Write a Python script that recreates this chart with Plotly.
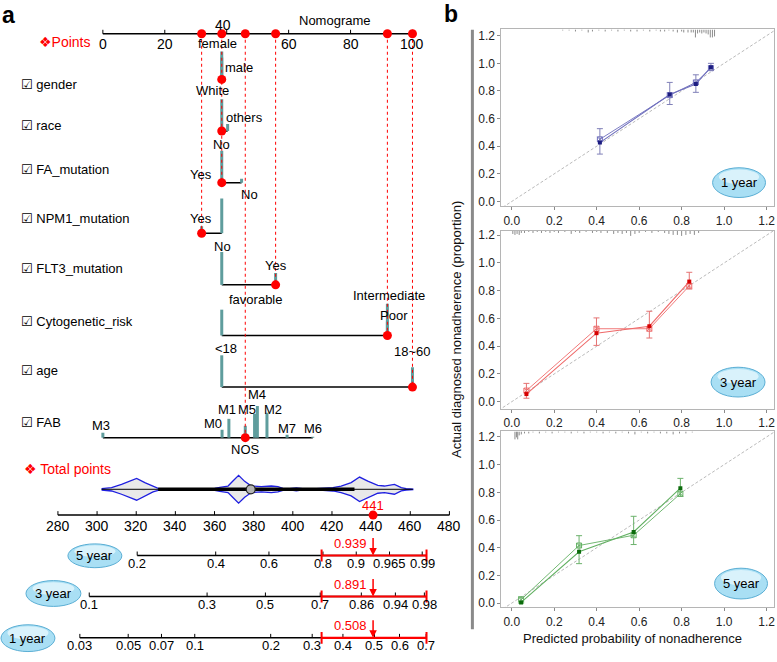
import plotly.graph_objects as go

FONT = "Liberation Sans, Arial, DejaVu Sans, sans-serif"
W, H = 777, 662

# ======================= DATA =======================
# --- Panel a: nomogram ---
points_ticks = [0, 20, 40, 60, 80, 100]
total_ticks = [280, 300, 320, 340, 360, 380, 400, 420, 440, 460, 480]

row_names = ["gender", "race", "FA_mutation", "NPM1_mutation", "FLT3_mutation",
             "Cytogenetic_risk", "age", "FAB"]

gender_levels = ["female", "male"]
gender_points = [38.4, 38.4]
gender_freq = [0.44, 0.56]

race_levels = ["White", "others"]
race_points = [38.4, 40.3]
race_freq = [0.64, 0.14]

fa_levels = ["No", "Yes", "No"]
fa_points = [38.4, 38.4, 44.8]
fa_freq = [0.64, 0.0, 0.08]

npm1_levels = ["Yes", "No"]
npm1_points = [31.9, 38.4]
npm1_freq = [0.14, 0.70]

flt3_levels = ["No", "Yes"]
flt3_points = [38.4, 55.8]
flt3_freq = [0.66, 0.24]

cyto_levels = ["favorable", "Intermediate", "Poor"]
cyto_points = [38.4, 91.9, 91.9]
cyto_freq = [0.52, 0.64, 0.28]

age_levels = ["<18", "18~60"]
age_points = [38.4, 100.0]
age_freq = [0.64, 0.40]

fab_levels = ["M3", "M0", "M1", "NOS", "M5", "M4", "M2", "M7", "M6"]
fab_points = [0.0, 38.5, 40.7, 46.0, 49.0, 49.9, 53.0, 59.5, 67.8]
fab_freq = [0.10, 0.16, 0.38, 0.24, 0.48, 0.64, 0.50, 0.06, 0.02]

observed_level = [1, 0, 0, 0, 1, 2, 1, 3]   # index of the patient's level in each row
total_points = 441

# distribution of total points (violin)
violin_total = [302.3, 307.4, 312.5, 320.2, 324.4, 328.6, 331.2, 345.0, 360.1, 362.7,
                366.9, 369.4, 372.3, 375.4, 378.8, 383.9, 389.0, 392.4, 394.9, 398.4,
                401.8, 405.0, 412.0, 420.5, 424.7, 429.8, 434.1, 438.3, 443.4, 446.8,
                451.9, 455.4, 457.9, 461.3]
violin_density = [0.7, 1.7, 5.0, 11.0, 6.7, 2.7, 1.0, 0.6, 1.0, 2.0,
                  3.3, 8.3, 14.0, 8.0, 3.3, 2.7, 3.3, 2.7, 1.0, 0.6,
                  1.5, 0.6, 0.6, 1.7, 3.3, 6.7, 12.3, 8.3, 4.0, 3.3,
                  5.0, 1.7, 0.7, 0.3]
box_q1, box_median, box_q3 = 331.2, 378.5, 431.5

# probability scales (tick value -> total points position)
prob5_ticks = [0.2, 0.4, 0.6, 0.8, 0.9, 0.965, 0.99]
prob5_total = [320.5, 360.6, 387.8, 415.4, 432.4, 449.4, 466.1]
prob3_ticks = [0.1, 0.3, 0.5, 0.7, 0.86, 0.94, 0.98]
prob3_total = [296.0, 356.2, 386.0, 414.0, 435.0, 452.4, 467.2]
prob1_ticks = [0.03, 0.05, 0.07, 0.1, 0.2, 0.3, 0.4, 0.5, 0.6, 0.7]
prob1_total = [291.2, 315.9, 332.9, 349.9, 388.7, 409.9, 425.6, 441.7, 454.5, 468.1]
pred_values = [0.939, 0.891, 0.508]          # 5, 3, 1 year
pred_names = ["5 year", "3 year", "1 year"]
ci_total = [414.7, 468.3]

# --- Panel b: calibration ---
cal1_pred = [0.415, 0.744, 0.867, 0.938]
cal1_obs = [0.426, 0.774, 0.850, 0.972]
cal1_lo = [0.343, 0.702, 0.790, 0.948]
cal1_hi = [0.527, 0.862, 0.917, 1.000]
cal1_corr = [0.450, 0.770, 0.862, 0.965]

cal3_pred = [0.069, 0.399, 0.648, 0.836]
cal3_obs = [0.055, 0.494, 0.544, 0.866]
cal3_lo = [0.025, 0.406, 0.459, 0.812]
cal3_hi = [0.132, 0.604, 0.652, 0.933]
cal3_corr = [0.080, 0.526, 0.526, 0.835]

cal5_pred = [0.044, 0.317, 0.574, 0.794]
cal5_obs = [0.005, 0.371, 0.514, 0.830]
cal5_lo = [0.000, 0.285, 0.423, 0.770]
cal5_hi = [0.046, 0.487, 0.627, 0.901]
cal5_corr = [0.025, 0.416, 0.490, 0.790]

rug1_x = [0.24, 0.27, 0.30, 0.33, 0.36, 0.38, 0.41, 0.44, 0.47, 0.50, 0.53, 0.56, 0.59,
          0.62, 0.65, 0.68, 0.70, 0.72, 0.74, 0.76, 0.78, 0.80, 0.81, 0.83, 0.845, 0.855,
          0.865, 0.875, 0.885, 0.895, 0.905, 0.915, 0.925, 0.935, 0.945, 0.955]
rug1_n = [1, 1, 2, 1, 3, 2, 1, 2, 1, 2, 1, 2, 2, 1, 2, 1, 2, 2, 1, 2, 3, 2, 3, 3, 3, 3,
          8, 4, 3, 4, 3, 4, 5, 8, 8, 7]
rug3_x = [0.005, 0.015, 0.025, 0.035, 0.045, 0.06, 0.08, 0.10, 0.12, 0.14, 0.16, 0.18,
          0.20, 0.22, 0.25, 0.28, 0.30, 0.32, 0.35, 0.38, 0.40, 0.42, 0.45, 0.48, 0.50,
          0.52, 0.54, 0.56, 0.58, 0.60, 0.63, 0.66, 0.69, 0.72, 0.74, 0.76, 0.78, 0.80,
          0.82, 0.84, 0.86, 0.88]
rug3_n = [3, 4, 3, 4, 2, 2, 1, 2, 1, 2, 1, 2, 1, 2, 1, 3, 1, 2, 1, 2, 1, 2, 2, 3, 2, 3,
          2, 5, 3, 2, 1, 2, 1, 2, 3, 4, 4, 5, 4, 3, 4, 2]
rug5_x = [0.015, 0.022, 0.028, 0.035, 0.045, 0.06, 0.08, 0.10, 0.13, 0.16, 0.19, 0.22,
          0.25, 0.28, 0.31, 0.34, 0.37, 0.40, 0.43, 0.46, 0.49, 0.52, 0.55, 0.58, 0.61,
          0.64, 0.67, 0.70, 0.73, 0.76, 0.79, 0.82, 0.85]
rug5_n = [8, 6, 8, 4, 3, 2, 2, 1, 2, 1, 2, 1, 1, 2, 1, 2, 1, 1, 2, 1, 2, 1, 2, 3, 1, 2,
          1, 2, 2, 3, 2, 2, 1]
cal_ticks = [0.0, 0.2, 0.4, 0.6, 0.8, 1.0, 1.2]

# ======================= STYLE / LAYOUT CONSTANTS =======================
ROW_BASE = [78, 130, 182, 233, 285, 336, 388, 439]
ROW_LABEL_Y = [83, 124, 169, 218, 269, 322, 371, 424]
BAR_PX = 50
POINTS_AXIS_Y = 32
TOTAL_AXIS_Y = 517
VIOLIN_Y = 491
PROB_AXIS_Y = [557.7, 599.0, 640.7]
PROB_ELLIPSE = [(95, 558, 54, 24), (53.5, 596, 55, 26), (28, 641, 54, 27)]
TEAL = "#5f9d9d"
RED = "#ff0000"
# label offsets (dx px, dy px) per level; None = not drawn
LABEL_OFF = {
    "gender": [(-4, -36), (17, -12)],
    "race": [(-9, -41), (17, -14)],
    "FA_mutation": [(0, -38), (-21, -8), (8, 12)],
    "NPM1_mutation": [(-1, -15), None],
    "FLT3_mutation": [(1, -39), (0, -19)],
    "Cytogenetic_risk": [(34, -36), (2, -40), (7, -20)],
    "age": [(4, -39), (0, -36)],
    "FAB": [(-2, -12), (-9, -14), (-2, -28), (0, 12), (-8, -28), (0, -44), (6, -28),
            (0, -9), (0, -9)],
}

rows = [
    (gender_levels, gender_points, gender_freq),
    (race_levels, race_points, race_freq),
    (fa_levels, fa_points, fa_freq),
    (npm1_levels, npm1_points, npm1_freq),
    (flt3_levels, flt3_points, flt3_freq),
    (cyto_levels, cyto_points, cyto_freq),
    (age_levels, age_points, age_freq),
    (fab_levels, fab_points, fab_freq),
]

fig = go.Figure()
annotations = []
shapes = []


def ann(x, y, text, xref="x", yref="y", size=13, color="#000", xanchor="center",
        yanchor="middle", **kw):
    annotations.append(dict(x=x, y=y, xref=xref, yref=yref, text=text, showarrow=False,
                            font=dict(family=FONT, size=size, color=color),
                            xanchor=xanchor, yanchor=yanchor, **kw))


def paper_text(px, py, text, size=13, color="#000", **kw):
    annotations.append(dict(x=px / W, y=1 - py / H, xref="paper", yref="paper", text=text,
                            showarrow=False, font=dict(family=FONT, size=size, color=color),
                            xanchor="center", yanchor="middle", **kw))


def seg_trace(xs, ys, color, width, xaxis="x", yaxis="y", dash=None):
    fig.add_trace(go.Scatter(x=xs, y=ys, mode="lines", xaxis=xaxis, yaxis=yaxis,
                             line=dict(color=color, width=width, dash=dash),
                             hoverinfo="skip", showlegend=False))


def ellipse(cx, cy, w, h):
    shapes.append(dict(type="circle", xref="paper", yref="paper",
                       x0=(cx - w / 2) / W, x1=(cx + w / 2) / W,
                       y0=1 - (cy + h / 2) / H, y1=1 - (cy - h / 2) / H,
                       fillcolor="#a9dff4", line=dict(color="#5aaed4", width=1),
                       layer="above"))
    shapes.append(dict(type="circle", xref="paper", yref="paper",
                       x0=(cx - w * 0.38) / W, x1=(cx + w * 0.38) / W,
                       y0=1 - (cy + h * 0.05) / H, y1=1 - (cy - h * 0.44) / H,
                       fillcolor="#d9f2fb", line=dict(width=0), layer="above"))


# ======================= PANEL a =======================
# Points axis
seg_trace([points_ticks[0], points_ticks[-1]], [POINTS_AXIS_Y] * 2, "#000", 1.5)
tx, ty = [], []
for t in points_ticks:
    tx += [t, t, None]
    ty += [POINTS_AXIS_Y, POINTS_AXIS_Y - 4, None]
seg_trace(tx, ty, "#000", 1)
for t in points_ticks:
    if t == 40:
        ann(t, POINTS_AXIS_Y - 9, str(t), size=14, xshift=-4)
    else:
        ann(t, POINTS_AXIS_Y + 10, str(t), size=14)
ann(335 / W, 19, "Nomograme", xref="paper", size=13)
ann(37 / W, 40, "❖Points", xref="paper", size=14, color=RED, xanchor="left")

# row labels
for name, ly in zip(row_names, ROW_LABEL_Y):
    ann(19 / W, ly, "☑ " + name, xref="paper", size=13, xanchor="left")

# row horizontal lines
for (lv, pts, fq), base in zip(rows, ROW_BASE):
    if max(pts) > min(pts):
        seg_trace([min(pts), max(pts)], [base, base], "#000", 1.5)

# teal frequency bars
bx, by = [], []
for (lv, pts, fq), base in zip(rows, ROW_BASE):
    for p, f in zip(pts, fq):
        if f > 0:
            bx += [p, p, None]
            by += [base, base - f * BAR_PX, None]
seg_trace(bx, by, TEAL, 3)

# level labels
for name, (lv, pts, fq), base in zip(row_names, rows, ROW_BASE):
    for i, (lab, p) in enumerate(zip(lv, pts)):
        off = LABEL_OFF[name][i]
        if off is None:
            continue
        ann(p, base + off[1], lab, size=13, xshift=off[0])

# observed values: red dotted guides and dots
obs_pts = [rows[r][1][observed_level[r]] for r in range(len(rows))]
deepest = {}
for v, base in zip(obs_pts, ROW_BASE):
    deepest[v] = max(deepest.get(v, 0), base)
gx, gy = [], []
for v, b in deepest.items():
    gx += [v, v, None]
    gy += [POINTS_AXIS_Y, b, None]
seg_trace(gx, gy, RED, 1, dash="dot")
fig.add_trace(go.Scatter(x=obs_pts + list(deepest.keys()),
                         y=ROW_BASE + [POINTS_AXIS_Y] * len(deepest),
                         mode="markers", marker=dict(color=RED, size=9),
                         hoverinfo="skip", showlegend=False))

# Total points: violin
ann(22 / W, 471, "❖ Total points", xref="paper", size=14, color=RED, xanchor="left")
vx = violin_total + violin_total[::-1]
vy = [VIOLIN_Y - d for d in violin_density] + [VIOLIN_Y + d for d in violin_density[::-1]]
fig.add_trace(go.Scatter(x=vx, y=vy, xaxis="x2", yaxis="y", mode="lines", fill="toself",
                         fillcolor="#e9e9e9", line=dict(color="#1f1fe0", width=1.3),
                         hoverinfo="skip", showlegend=False))
seg_trace([violin_total[0], violin_total[-1]], [VIOLIN_Y] * 2, "#000", 1, xaxis="x2")
seg_trace([box_q1, box_q3], [VIOLIN_Y] * 2, "#000", 3.5, xaxis="x2")
fig.add_trace(go.Scatter(x=[box_median], y=[VIOLIN_Y], xaxis="x2", yaxis="y", mode="markers",
                         marker=dict(size=9, color="#b3b3b3", line=dict(color="#222", width=1.2)),
                         hoverinfo="skip", showlegend=False))

# Total points axis
seg_trace([total_ticks[0], total_ticks[-1]], [TOTAL_AXIS_Y] * 2, "#000", 1.5, xaxis="x2")
tx, ty = [], []
for t in total_ticks:
    tx += [t, t, None]
    ty += [TOTAL_AXIS_Y, TOTAL_AXIS_Y - 4, None]
seg_trace(tx, ty, "#000", 1, xaxis="x2")
for t in total_ticks:
    ann(t, TOTAL_AXIS_Y + 11, str(t), xref="x2", size=14)
fig.add_trace(go.Scatter(x=[total_points], y=[TOTAL_AXIS_Y], xaxis="x2", yaxis="y",
                         mode="markers", marker=dict(color=RED, size=9),
                         hoverinfo="skip", showlegend=False))
ann(total_points, TOTAL_AXIS_Y - 10, str(total_points), xref="x2", size=13, color=RED)

# Probability axes
prob_axes = [(prob5_ticks, prob5_total), (prob3_ticks, prob3_total), (prob1_ticks, prob1_total)]
for k, ((pt, ptot), yax) in enumerate(zip(prob_axes, PROB_AXIS_Y)):
    seg_trace([ptot[0], ci_total[1]], [yax] * 2, "#000", 1.5, xaxis="x2")
    tx, ty = [], []
    for t in ptot:
        tx += [t, t, None]
        ty += [yax, yax - 4, None]
    seg_trace(tx, ty, "#000", 1, xaxis="x2")
    for v, t in zip(pt, ptot):
        ann(t, yax + 8, str(v), xref="x2", size=13)
    # CI bar
    seg_trace(ci_total, [yax] * 2, RED, 2.2, xaxis="x2")
    cx_, cy_ = [], []
    for c in ci_total:
        cx_ += [c, c, None]
        cy_ += [yax - 6, yax + 6, None]
    seg_trace(cx_, cy_, RED, 2, xaxis="x2")
    annotations.append(dict(x=total_points, y=yax, xref="x2", yref="y", ax=0, ay=-19,
                            showarrow=True, arrowhead=2, arrowsize=1, arrowwidth=1.5,
                            arrowcolor=RED, text=""))
    ann(total_points, yax - 12, f"{pred_values[k]:.3f}", xref="x2", size=13, color=RED,
        xshift=-23)
    cx, cy, ew, eh = PROB_ELLIPSE[k]
    ellipse(cx, cy, ew, eh)
    paper_text(cx, cy, pred_names[k])

# ======================= PANEL b =======================
cal_sets = [
    ("3", "y3", cal1_pred, cal1_obs, cal1_lo, cal1_hi, cal1_corr, rug1_x, rug1_n,
     "#1c1c80", "#6f6fbd", "#8080b8", "1 year"),
    ("4", "y4", cal3_pred, cal3_obs, cal3_lo, cal3_hi, cal3_corr, rug3_x, rug3_n,
     "#d60000", "#ef6a6a", "#e57373", "3 year"),
    ("5", "y5", cal5_pred, cal5_obs, cal5_lo, cal5_hi, cal5_corr, rug5_x, rug5_n,
     "#0b6b0b", "#62b062", "#6cb26c", "5 year"),
]
Y_DOM_PX = [(27.7, 206.0), (230.7, 410.0), (432.7, 610.0)]
Y_RANGE = [(-0.036, 1.245), (-0.052, 1.231), (-0.031, 1.240)]
X_RANGE = (-0.049, 1.235)
ELL_B = [(740, 182, 53, 30), (739, 383, 54, 30), (742, 586, 53, 31)]

layout_axes = {}
for i, (ax, ya, pred, obs, lo, hi, corr, rx, rn, dark, light, ebc, lab) in enumerate(cal_sets):
    xa = "x" + ax
    # diagonal reference
    fig.add_trace(go.Scatter(x=[-0.2, 1.4], y=[-0.2, 1.4], xaxis=xa, yaxis=ya, mode="lines",
                             line=dict(color="#a8a8a8", width=0.8, dash="3px,2px"),
                             hoverinfo="skip", showlegend=False))
    # rug on top
    ytop = Y_RANGE[i][1]
    ppu = (Y_DOM_PX[i][1] - Y_DOM_PX[i][0]) / (Y_RANGE[i][1] - Y_RANGE[i][0])
    rxs, rys = [], []
    for xv, n in zip(rx, rn):
        rxs += [xv, xv, None]
        rys += [ytop, ytop - n / ppu, None]
    fig.add_trace(go.Scatter(x=rxs, y=rys, xaxis=xa, yaxis=ya, mode="lines",
                             line=dict(color="#8c8c8c", width=1),
                             hoverinfo="skip", showlegend=False))
    # bias-corrected line
    fig.add_trace(go.Scatter(x=pred, y=corr, xaxis=xa, yaxis=ya, mode="lines+markers",
                             line=dict(color=light, width=0.9),
                             marker=dict(symbol="square-x-open", size=5, color=light,
                                         line=dict(width=1)),
                             hoverinfo="skip", showlegend=False))
    # apparent line with error bars
    fig.add_trace(go.Scatter(x=pred, y=obs, xaxis=xa, yaxis=ya, mode="lines+markers",
                             line=dict(color=light, width=1.1),
                             marker=dict(symbol="square", size=4, color=dark),
                             error_y=dict(type="data", symmetric=False,
                                          array=[h - o for h, o in zip(hi, obs)],
                                          arrayminus=[o - l for o, l in zip(obs, lo)],
                                          color=ebc, thickness=1, width=3),
                             hoverinfo="skip", showlegend=False))
    y0p, y1p = Y_DOM_PX[i]
    common = dict(showline=True, mirror=True, linecolor="#b5b5b5", linewidth=1,
                  ticks="outside", ticklen=3, tickcolor="#8a8a8a", showgrid=False,
                  zeroline=False, tickvals=cal_ticks, tickformat=".1f",
                  tickfont=dict(family=FONT, size=12, color="#222"))
    layout_axes["xaxis" + ax] = dict(domain=[502 / W, 775 / W], range=list(X_RANGE),
                                     anchor=ya, **common)
    layout_axes["yaxis" + ax] = dict(domain=[1 - y1p / H, 1 - y0p / H], range=list(Y_RANGE[i]),
                                     anchor=xa, **common)
    cx, cy, ew, eh = ELL_B[i]
    ellipse(cx, cy, ew, eh)
    paper_text(cx, cy, lab)

# panel b axis titles and side bar
paper_text(633, 641, "Predicted probability of nonadherence", color="#111")
paper_text(457, 330, "Actual diagnosed nonadherence (proportion)", color="#111", textangle=-90)
shapes.append(dict(type="line", xref="paper", yref="paper", x0=473 / W, x1=473 / W,
                   y0=1 - 28 / H, y1=1 - 632 / H, line=dict(color="#8a8a8a", width=3)))

# panel letters
paper_text(9, 13, "<b>a</b>", size=23)
paper_text(452, 12, "<b>b</b>", size=23)

fig.update_layout(
    width=W, height=H, margin=dict(l=0, r=0, t=0, b=0),
    paper_bgcolor="white", plot_bgcolor="white", showlegend=False,
    xaxis=dict(domain=[0, 460 / W], range=[-103 / 3.1, (460 - 103) / 3.1], visible=False,
               anchor="y"),
    xaxis2=dict(domain=[0, 460 / W], range=[280 - 58 / 1.96, 280 + 402 / 1.96],
                visible=False, overlaying="x", anchor="y"),
    yaxis=dict(domain=[0, 1], range=[H, 0], visible=False, anchor="x"),
    annotations=annotations, shapes=shapes,
    **layout_axes,
)

fig.write_html("out.html", config={"displayModeBar": False},
               post_script="document.body.style.margin='0px';"
                           "document.body.style.padding='0px';"
                           "document.body.style.overflow='hidden';")
